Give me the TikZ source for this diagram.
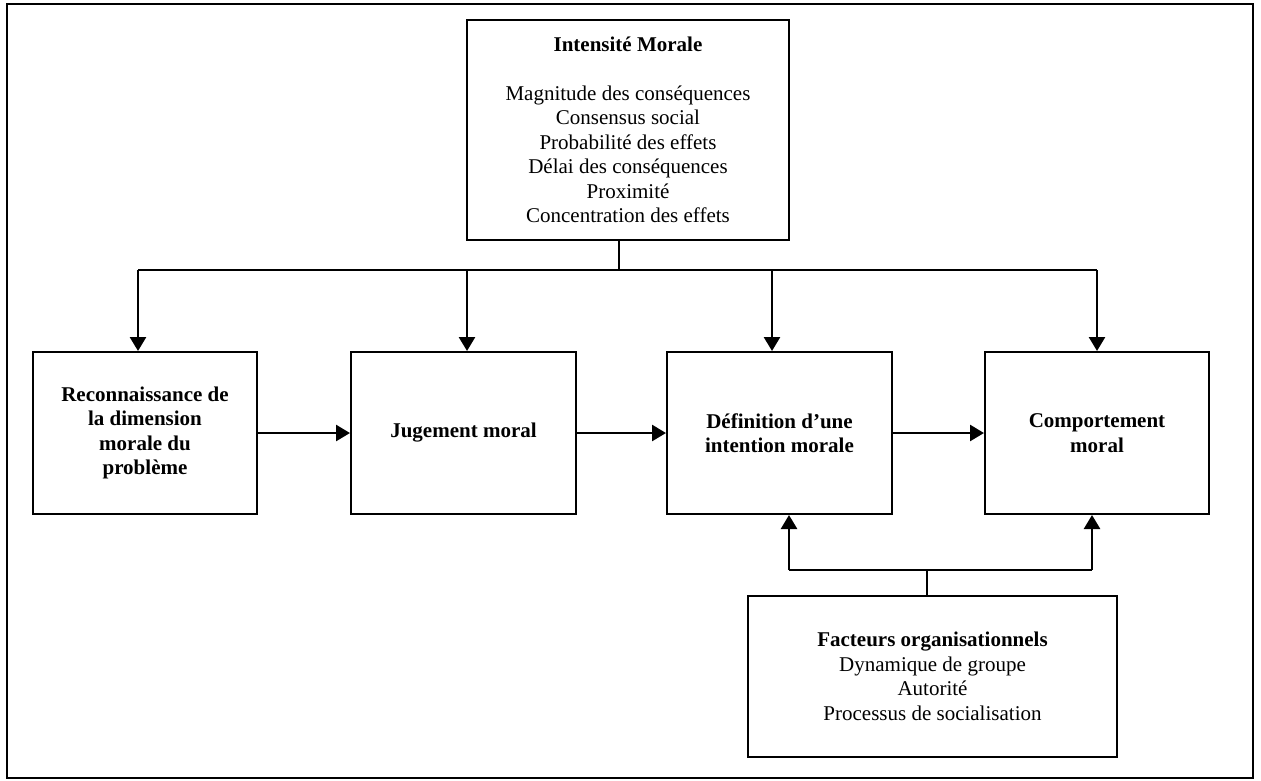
\documentclass[tikz,border=0pt]{standalone}
\usepackage{fontspec}
\setmainfont{Liberation Serif}
\usepackage{tikz}
\usetikzlibrary{arrows.meta, positioning}

\begin{document}
\begin{tikzpicture}[x=1pt, y=-1pt, >={Triangle[width=16pt,length=14pt]},
    boite/.style={draw, line width=2pt, align=center, inner sep=0pt,
        font=\fontsize{21}{24.5}\selectfont},
    etape/.style={boite, font=\fontsize{21}{24.5}\selectfont\bfseries,
        minimum width=224pt, minimum height=162pt},
    fleche/.style={->, line width=2.6pt},
    lien/.style={line width=1.8pt}]
    % Cadre
    \useasboundingbox (0,0) rectangle (1261,780);
    \draw[line width=2.6pt] (7,4) rectangle (1253,778);

    % Intensité morale
    \node[boite, minimum width=322pt, minimum height=220pt] (intens) at (628,130)
        {\textbf{Intensité Morale}\\[24.5pt]
         Magnitude des conséquences\\ Consensus social\\ Probabilité des effets\\
         Délai des conséquences\\ Proximité\\ Concentration des effets};

    % Les quatre étapes
    \node[etape] (recon) at (145,433) {Reconnaissance de\\ la dimension\\ morale du\\ problème};
    \node[etape, minimum width=225pt] (jugement) at (463.5,433) {Jugement moral};
    \node[etape, minimum width=225pt] (defin) at (779.5,433) {Définition d’une\\ intention morale};
    \node[etape] (comport) at (1097,433) {Comportement\\ moral};

    % Facteurs organisationnels
    \node[boite, minimum width=369pt, minimum height=161pt] (facteurs) at (932.5,676.5)
        {\textbf{Facteurs organisationnels}\\ Dynamique de groupe\\ Autorité\\ Processus de socialisation};

    % Bus du haut
    \coordinate (h1) at (138,270);
    \coordinate (h2) at (467,270);
    \coordinate (h3) at (772,270);
    \coordinate (h4) at (1097,270);
    \draw[lien] ([xshift=-9pt]intens.south) -- ([xshift=-9pt]intens.south |- h1);
    \draw[lien] (h1) -- (h4);
    \foreach \c/\n in {h1/recon, h2/jugement, h3/defin, h4/comport}
        \draw[fleche] (\c) -- (\c |- \n.north);

    % Flèches entre étapes
    \draw[fleche] (recon) -- (jugement);
    \draw[fleche] (jugement) -- (defin);
    \draw[fleche] (defin) -- (comport);

    % Bus du bas
    \coordinate (b1) at (789,570);
    \coordinate (b2) at (1092,570);
    \draw[lien] ([xshift=-5.5pt]facteurs.north) -- ([xshift=-5.5pt]facteurs.north |- b1);
    \draw[lien] (b1) -- (b2);
    \draw[fleche] (b1) -- (b1 |- defin.south);
    \draw[fleche] (b2) -- (b2 |- comport.south);
\end{tikzpicture}
\end{document}
